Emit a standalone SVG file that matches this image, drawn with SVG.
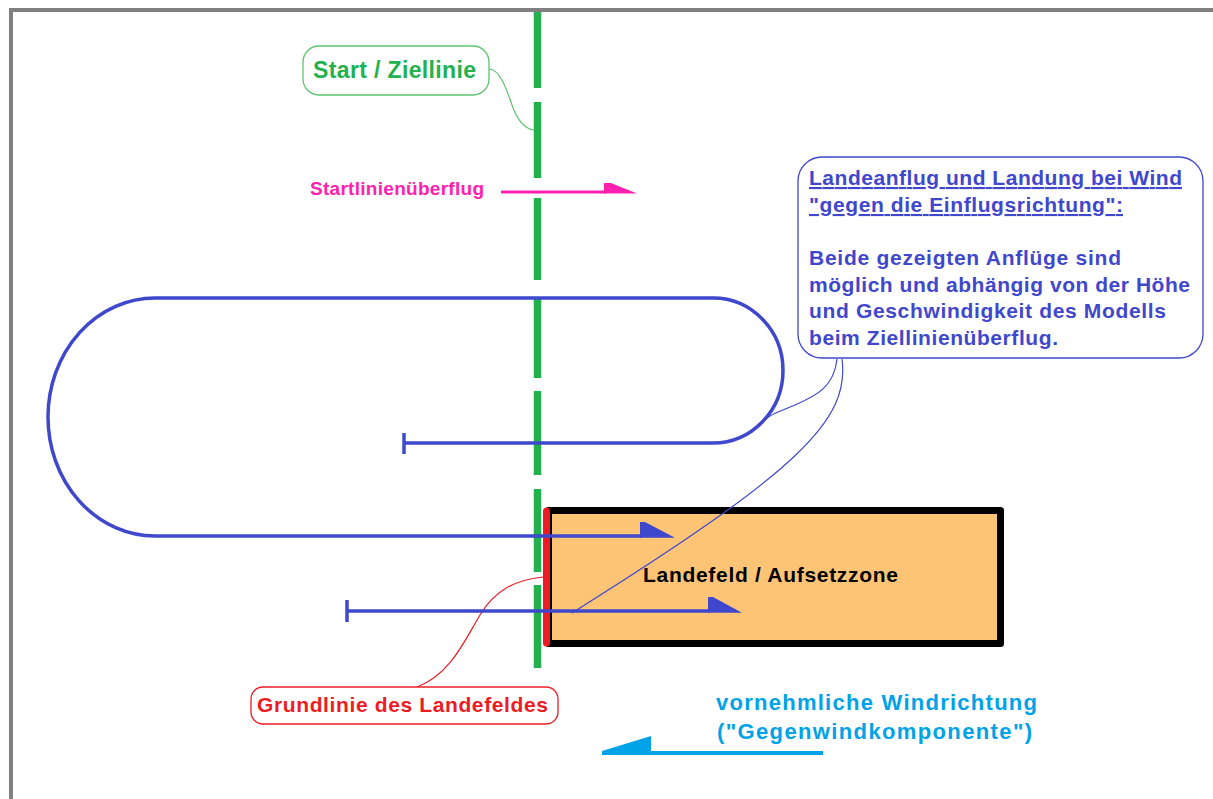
<svg xmlns="http://www.w3.org/2000/svg" width="1213" height="799" viewBox="0 0 1213 799">
<style>
text{font-family:"Liberation Sans",Arial,sans-serif;font-weight:bold}
.callout{fill:#FFFFFF;stroke-width:1.3}
.thin{fill:none;stroke-width:1.2}
.blue{stroke:#3F48CC;fill:none;stroke-width:3.5}
.bt{fill:#3F48CC;font-size:21px}
</style>
<rect x="0" y="0" width="1213" height="799" fill="#FFFFFF"/>
<g id="frame">
<rect x="9" y="8" width="1204" height="4" fill="#808080"/>
<rect x="9" y="8" width="4" height="791" fill="#808080"/>
</g>
<g id="start-ziellinie-line">
<path d="M537.5,12V88M537.5,102V178M537.5,198V280M537.5,298V378M537.5,391V475M537.5,489V572M537.5,585V668" stroke="#22B14C" stroke-width="7.5" fill="none"/>
</g>
<g id="landefeld">
<rect x="548.5" y="510.5" width="452" height="133" fill="#FDC476" stroke="#000000" stroke-width="7" stroke-linejoin="round"/>
<text x="643" y="582" font-size="21" fill="#000000" textLength="255" lengthAdjust="spacing">Landefeld / Aufsetzzone</text>
</g>
<g id="grundlinie">
<line x1="546.5" y1="511" x2="546.5" y2="643" stroke="#ED1C24" stroke-width="7" stroke-linecap="round"/>
</g>
<g id="connectors">
<path class="thin" stroke="#5CC46E" d="M489,69 C500,69 507,90 513,108 C519,123 526,129 534,130"/>
<path class="thin" stroke="#ED1C24" d="M417,687 C450,675 465,640 480,615 C495,590 515,580 543,577"/>
<path class="thin" stroke="#3F48CC" d="M837,359 C834,388 815,396 795,405 C780,411 772,414 767,418"/>
<path class="thin" stroke="#3F48CC" d="M842,359 C850,420 800,470 572,613"/>
</g>
<g id="flugbahn-schleife">
<path class="blue" d="M404,443 H713 A70,72.5 0 0 0 713,298 H155 A107,119 0 0 0 155,536 H642"/>
<line class="blue" x1="404" y1="433" x2="404" y2="454"/>
<polygon points="640,522 645,522 675,537.8 640,537.8" fill="#3F48CC"/>
</g>
<g id="flugbahn-direkt">
<path class="blue" d="M347,611 H710"/>
<line class="blue" x1="347" y1="600" x2="347" y2="622"/>
<polygon points="708,597 713,597 742,612.8 708,612.8" fill="#3F48CC"/>
</g>
<g id="startlinienueberflug">
<line x1="501" y1="192" x2="606" y2="192" stroke="#FF20B0" stroke-width="3"/>
<polygon points="604,183 611,183 637,193.5 604,193.5" fill="#FF20B0"/>
<text x="310" y="195" font-size="19" fill="#FF20B0" textLength="174" lengthAdjust="spacing">Startlinienüberflug</text>
</g>
<g id="label-start-ziellinie">
<rect class="callout" x="303" y="46" width="186" height="49" rx="16" stroke="#5CC46E"/>
<text x="313" y="78" font-size="23" fill="#22B14C" textLength="163" lengthAdjust="spacing">Start / Ziellinie</text>
</g>
<g id="label-grundlinie">
<rect class="callout" x="251" y="687" width="307" height="37" rx="12" stroke="#ED1C24"/>
<text x="257" y="712" font-size="21" fill="#ED1C24" textLength="291" lengthAdjust="spacing">Grundlinie des Landefeldes</text>
</g>
<g id="label-landeanflug">
<rect class="callout" x="798" y="157" width="405" height="201" rx="24" stroke="#3F48CC"/>
<text class="bt" x="809" y="185" text-decoration="underline" textLength="373" lengthAdjust="spacing">Landeanflug und Landung bei Wind</text>
<text class="bt" x="809" y="212" text-decoration="underline" textLength="314" lengthAdjust="spacing">"gegen die Einflugsrichtung":</text>
<text class="bt" x="809" y="265" textLength="312" lengthAdjust="spacing">Beide gezeigten Anflüge sind</text>
<text class="bt" x="809" y="292" textLength="381" lengthAdjust="spacing">möglich und abhängig von der Höhe</text>
<text class="bt" x="809" y="318" textLength="357" lengthAdjust="spacing">und Geschwindigkeit des Modells</text>
<text class="bt" x="809" y="345" textLength="249" lengthAdjust="spacing">beim Ziellinienüberflug.</text>
</g>
<g id="windrichtung">
<line x1="649" y1="753" x2="823" y2="753" stroke="#00A2E8" stroke-width="4"/>
<polygon points="602,751 651,736 651,755 602,755" fill="#00A2E8"/>
<text x="716" y="710" font-size="22" fill="#00A2E8" textLength="321" lengthAdjust="spacing">vornehmliche Windrichtung</text>
<text x="717" y="739" font-size="22" fill="#00A2E8" textLength="315" lengthAdjust="spacing">("Gegenwindkomponente")</text>
</g>
</svg>
